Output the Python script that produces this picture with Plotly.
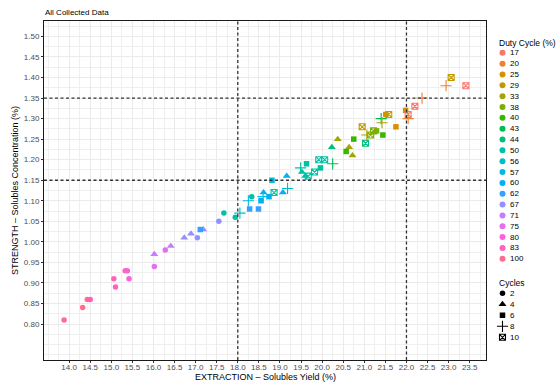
import plotly.graph_objects as go

# ---------------- data ----------------
duty_levels = [17, 20, 25, 29, 33, 38, 40, 43, 44, 50, 56, 57, 60, 62, 67, 71, 75, 80, 83, 100]
duty_colors = ["#F8766D", "#EA8331", "#D89000", "#C09B00", "#A3A500", "#7CAE00", "#39B600",
               "#00BB4E", "#00BF7D", "#00C1A3", "#00BFC4", "#00BAE0", "#00B0F6", "#35A2FF",
               "#9590FF", "#C77CFF", "#E76BF3", "#FA62DB", "#FF62BC", "#FF6C91"]
cycle_levels = [2, 4, 6, 8, 10]

extraction = [13.88, 14.32, 14.43, 14.50, 15.06, 15.10, 15.33, 15.38, 15.42, 16.02,
              16.28, 16.02, 16.41, 16.73, 16.89, 17.04, 17.18, 17.11, 17.55, 17.67,
              17.94, 18.05, 18.33, 18.25, 18.28, 18.49, 18.55, 18.60, 18.61, 18.74,
              18.86, 18.81, 19.07, 19.18, 19.16, 19.49, 19.52, 19.60, 19.63, 19.67,
              19.82, 19.96, 19.92, 20.06, 20.25, 20.23, 20.37, 20.57, 20.64, 20.72,
              20.75, 20.95, 21.03, 21.06, 21.15, 21.22, 21.29, 21.44, 21.40, 21.42,
              21.51, 21.58, 21.75, 21.98, 22.04, 22.04, 22.20, 22.37, 22.94, 23.06,
              23.41]
strength = [0.81, 0.84, 0.86, 0.86, 0.91, 0.89, 0.93, 0.93, 0.91, 0.94,
            0.98, 0.97, 0.99, 1.01, 1.02, 1.01, 1.03, 1.03, 1.05, 1.07,
            1.06, 1.07, 1.11, 1.10, 1.08, 1.08, 1.10, 1.11, 1.12, 1.11,
            1.12, 1.15, 1.12, 1.13, 1.16, 1.18, 1.17, 1.16, 1.19, 1.16,
            1.17, 1.18, 1.20, 1.20, 1.19, 1.23, 1.25, 1.22, 1.23, 1.21,
            1.25, 1.28, 1.24, 1.26, 1.26, 1.27, 1.27, 1.26, 1.30, 1.29,
            1.31, 1.31, 1.28, 1.32, 1.31, 1.30, 1.33, 1.35, 1.38, 1.40,
            1.38]
duty = [100, 100, 100, 83, 83, 83, 83, 80, 80, 75,
        75, 71, 71, 67, 67, 67, 67, 62, 67, 50,
        50, 56, 50, 57, 62, 62, 60, 57, 60, 60,
        50, 57, 60, 56, 60, 50, 50, 50, 50, 50,
        50, 50, 50, 50, 43, 44, 33, 40, 33, 33,
        40, 29, 44, 33, 38, 38, 38, 40, 43, 33,
        25, 29, 25, 25, 17, 20, 17, 20, 20, 29,
        17]
cycles = [2, 2, 2, 2, 2, 2, 2, 2, 2, 2,
          2, 4, 4, 4, 4, 2, 4, 6, 2, 2,
          2, 8, 2, 8, 6, 6, 6, 8, 4, 6,
          10, 6, 4, 8, 4, 8, 4, 4, 6, 10,
          10, 6, 10, 10, 8, 4, 4, 6, 4, 4,
          6, 10, 10, 8, 10, 10, 6, 6, 8, 8,
          6, 10, 6, 6, 10, 8, 10, 8, 8, 10,
          10]

x_lines = [18.0, 22.0]
y_lines = [1.15, 1.35]
x_ticks = [14.0 + 0.5 * i for i in range(20)]
y_ticks = [0.80 + 0.05 * i for i in range(15)]
y_limits = [0.75, 1.50]

# ---------------- styles ----------------
W, H = 556, 383
ML, MR, MT, MB = 44, 5, 21, 23
PW = W - ML - MR
PH = H - MT - MB
PANEL_RIGHT = 486
main_dom = (PANEL_RIGHT - ML) / PW

shape_style = {
    2: dict(symbol="circle", size=5.5, lw=0),
    4: dict(symbol="triangle-up", size=7, lw=0),
    6: dict(symbol="square", size=5.5, lw=0),
    8: dict(symbol="cross-thin-open", size=8, lw=1.1),
    10: dict(symbol="square-x-open", size=6, lw=1.1),
}
color_of = dict(zip(duty_levels, duty_colors))
FONT = "Liberation Sans, Arial, Helvetica, sans-serif"

fig = go.Figure()

for c in cycle_levels:
    idx = [i for i in range(len(extraction)) if cycles[i] == c]
    st = shape_style[c]
    cols = [color_of[duty[i]] for i in idx]
    fig.add_trace(go.Scatter(
        x=[extraction[i] for i in idx], y=[strength[i] for i in idx],
        mode="markers", showlegend=False, hoverinfo="x+y",
        marker=dict(symbol=st["symbol"], size=st["size"], color=cols,
                    line=dict(width=st["lw"], color=cols)),
        xaxis="x", yaxis="y"))

# axis ranges (ggplot-style 5% expansion)
xs = max(extraction) - min(extraction)
x_range = [min(extraction) - 0.05 * xs, max(extraction) + 0.05 * xs]
ys = y_limits[1] - y_limits[0]
y_range = [y_limits[0] - 0.05 * ys, y_limits[1] + 0.05 * ys]

# ---------------- legend (drawn on a pixel-mapped helper axis) ----------------
leg_x0 = main_dom + 0.015
leg_px0 = ML + leg_x0 * PW
leg_marker_x = 502.5
leg_text_x = 508.5
duty_title_y, duty_y0, duty_step = 42.5, 52.8, 10.84
cyc_title_y, cyc_y0, cyc_step = 282.5, 293.3, 11.0

fig.add_trace(go.Scatter(
    x=[leg_marker_x] * len(duty_levels),
    y=[duty_y0 + i * duty_step for i in range(len(duty_levels))],
    mode="markers", showlegend=False, hoverinfo="skip",
    marker=dict(symbol="circle", size=6, color=duty_colors, line=dict(width=0)),
    xaxis="x2", yaxis="y2"))
for c_i, c in enumerate(cycle_levels):
    st = shape_style[c]
    fig.add_trace(go.Scatter(
        x=[leg_marker_x], y=[cyc_y0 + c_i * cyc_step],
        mode="markers", showlegend=False, hoverinfo="skip",
        marker=dict(symbol=st["symbol"], size=st["size"], color="black",
                    line=dict(width=st["lw"], color="black")),
        xaxis="x2", yaxis="y2"))

annotations = []
annotations.append(dict(text="Duty Cycle (%)", x=497, y=duty_title_y, xref="x2", yref="y2",
                        xanchor="left", yanchor="middle", showarrow=False,
                        font=dict(size=8.5, color="black", family=FONT)))
for i, d in enumerate(duty_levels):
    annotations.append(dict(text=str(d), x=leg_text_x, y=duty_y0 + i * duty_step,
                            xref="x2", yref="y2", xanchor="left", yanchor="middle",
                            showarrow=False, font=dict(size=8, color="black", family=FONT)))
annotations.append(dict(text="Cycles", x=497, y=cyc_title_y, xref="x2", yref="y2",
                        xanchor="left", yanchor="middle", showarrow=False,
                        font=dict(size=8.5, color="black", family=FONT)))
for i, c in enumerate(cycle_levels):
    annotations.append(dict(text=str(c), x=leg_text_x, y=cyc_y0 + i * cyc_step,
                            xref="x2", yref="y2", xanchor="left", yanchor="middle",
                            showarrow=False, font=dict(size=8, color="black", family=FONT)))

# titles (paper coordinates)
annotations.append(dict(text="All Collected Data", x=-0.001, y=(MT + PH - 13) / PH,
                        xref="paper", yref="paper",
                        xanchor="left", yanchor="middle", showarrow=False,
                        font=dict(size=8, color="black", family=FONT)))
annotations.append(dict(text="EXTRACTION \u2013 Solubles Yield (%)", x=main_dom / 2,
                        y=(MT + PH - 377.5) / PH, xref="paper", yref="paper",
                        xanchor="center", yanchor="middle", showarrow=False,
                        font=dict(size=9, color="black", family=FONT)))
annotations.append(dict(text="STRENGTH \u2013 Solubles Concentration (%)", x=(14.5 - ML) / PW,
                        y=0.5, xref="paper", yref="paper", textangle=-90,
                        xanchor="center", yanchor="middle", showarrow=False,
                        font=dict(size=9, color="black", family=FONT)))

shapes = []
for xv in x_lines:
    shapes.append(dict(type="line", xref="x", yref="y domain", x0=xv, x1=xv, y0=0, y1=1,
                       line=dict(color="#333333", width=1.3, dash="3px,2.5px"), layer="above"))
for yv in y_lines:
    shapes.append(dict(type="line", xref="x domain", yref="y", x0=0, x1=1, y0=yv, y1=yv,
                       line=dict(color="#333333", width=1.3, dash="3px,2.5px"), layer="above"))

axis_common = dict(showline=True, mirror=True, linecolor="#1a1a1a", linewidth=1,
                   ticks="outside", ticklen=2, tickwidth=1, tickcolor="#333333",
                   tickfont=dict(size=8, color="#4D4D4D", family=FONT),
                   showgrid=True, gridcolor="#EBEBEB", gridwidth=1, zeroline=False)

fig.update_layout(
    width=W, height=H,
    margin=dict(l=ML, r=MR, t=MT, b=MB, pad=0, autoexpand=False),
    paper_bgcolor="white", plot_bgcolor="white",
    font=dict(family=FONT),
    showlegend=False,
    xaxis=dict(domain=[0, main_dom], range=x_range, tickmode="array", tickvals=x_ticks,
               ticktext=[f"{v:.1f}" for v in x_ticks], ticklabelstandoff=-3,
               minor=dict(tickmode="linear", tick0=0, dtick=0.25, showgrid=True,
                          gridcolor="#EFEFEF", gridwidth=0.8, ticks=""),
               **axis_common),
    yaxis=dict(domain=[0, 1], range=y_range, tickmode="array", tickvals=y_ticks,
               ticktext=[f"{v:.2f}" for v in y_ticks],
               minor=dict(tickmode="linear", tick0=0, dtick=0.025, showgrid=True,
                          gridcolor="#EFEFEF", gridwidth=0.8, ticks=""),
               **axis_common),
    xaxis2=dict(domain=[leg_x0, 1], range=[leg_px0, W - MR], visible=False, anchor="y2"),
    yaxis2=dict(domain=[0, 1], range=[MT + PH, MT], visible=False, anchor="x2"),
    annotations=annotations,
    shapes=shapes,
)

fig.write_html("out.html", config={"displayModeBar": False},
               post_script="document.body.style.margin='0';document.body.style.padding='0';")
